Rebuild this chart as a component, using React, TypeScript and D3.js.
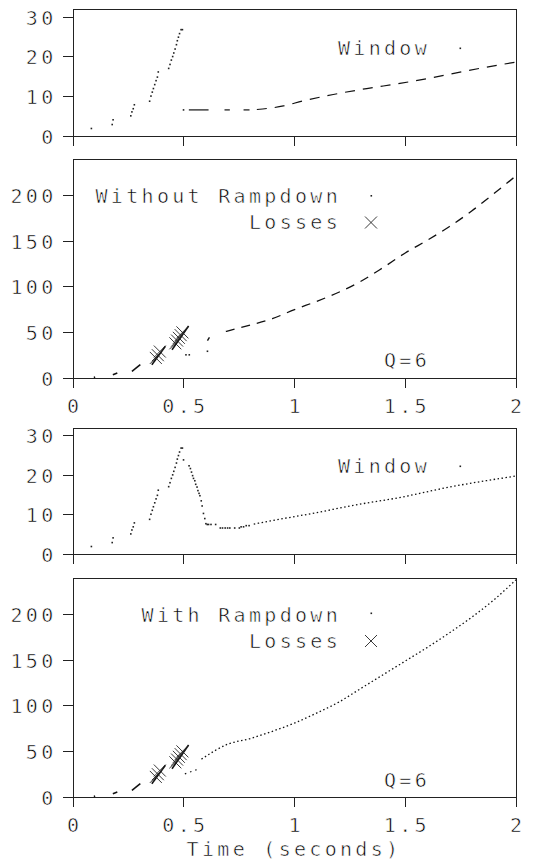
import React from "react";
import * as d3 from "d3";

type P = [number, number];

const xTicks = [0, 0.5, 1, 1.5, 2];
const xTickLabels = ["0", "0.5", "1", "1.5", "2"];
const windowTicks = [0, 10, 20, 30];
const seqTicks = [0, 50, 100, 150, 200];

// window (packets) during slow start — per-ack points
const slowStartWindow: P[] = [
  [0.083, 1.9],
  [0.177, 2.9], [0.181, 4.1],
  [0.261, 5.1], [0.266, 6.1], [0.272, 6.9], [0.277, 7.9],
  [0.346, 8.8], [0.352, 10.1], [0.358, 11.1], [0.363, 12.0], [0.369, 13.0], [0.375, 14.0], [0.381, 14.9], [0.385, 16.2],
  [0.432, 17.1], [0.438, 18.1], [0.444, 19.2], [0.45, 20.1], [0.455, 21.0], [0.461, 22.0], [0.467, 23.1], [0.471, 24.1],
  [0.476, 25.0], [0.481, 25.9], [0.488, 26.9], [0.494, 26.9],
];

// without rampdown: window after the loss
const noRampWindowDots: P[] = [[0.499, 6.6]];
const noRampWindowFlat: P[][] = [
  [[0.523, 6.6], [0.612, 6.6]],
  [[0.684, 6.6], [0.708, 6.6]],
  [[0.77, 6.6], [0.797, 6.6]],
];
const noRampWindowGrowth: P[] = [
  [0.83, 6.7], [0.95, 7.6], [1.04, 8.9], [1.175, 10.5], [1.326, 12.0], [1.476, 13.3], [1.627, 14.8], [1.777, 16.5], [2.0, 18.7],
];

// with rampdown: window after the loss
const rampWindowDots: P[] = [
  [0.499, 23.9], [0.524, 22.4], [0.53, 21.7], [0.535, 20.8], [0.54, 19.9], [0.544, 19.2], [0.55, 18.6], [0.554, 17.7],
  [0.56, 17.0], [0.564, 16.1], [0.569, 15.4], [0.573, 14.8], [0.579, 13.5], [0.583, 12.2], [0.589, 10.3], [0.595, 9.0],
  [0.6, 7.7], [0.606, 7.5], [0.612, 7.5], [0.623, 7.5], [0.644, 7.5], [0.665, 6.6], [0.675, 6.6], [0.687, 6.6],
  [0.698, 6.6], [0.708, 6.6], [0.73, 6.6], [0.751, 6.6], [0.759, 6.9], [0.77, 6.9], [0.782, 7.2], [0.795, 7.2],
];
const rampWindowGrowth: P[] = [
  [0.816, 7.6], [0.95, 9.0], [1.1, 10.5], [1.25, 12.2], [1.48, 14.4], [1.7, 17.0], [2.0, 19.8],
];

// sequence numbers (packets) — shared slow-start bursts
const earlySeq: P[][] = [
  [[0.094, 0.6], [0.1, 1.0]],
  [[0.18, 3.6], [0.2, 5.5]],
  [[0.266, 7.3], [0.304, 14.6]],
  [[0.356, 14.6], [0.417, 34.8]],
  [[0.447, 31.0], [0.522, 57.0]],
];

const noRampSeqDots: P[] = [[0.51, 25.4], [0.525, 25.4], [0.607, 29.3]];
const noRampSeqBits: P[][] = [[[0.607, 41.0], [0.616, 44.5]]];
const noRampSeqMain: P[] = [
  [0.69, 51], [0.8, 58], [0.9, 65], [1.0, 75], [1.1, 84], [1.2, 94], [1.3, 106], [1.4, 121], [1.5, 137],
  [1.6, 151], [1.7, 166], [1.8, 183], [1.9, 202], [2.0, 221.6],
];

const rampSeqLow: P[] = [[0.505, 25.4], [0.565, 30.5]];
const rampSeqMain: P[] = [
  [0.58, 41.5], [0.7, 58], [0.8, 64], [0.9, 72], [1.0, 81], [1.1, 92], [1.2, 104], [1.3, 119], [1.4, 134],
  [1.5, 149], [1.6, 164], [1.7, 180], [1.8, 197], [1.9, 216], [2.0, 238],
];

const lossesNoRamp: P[] = [
  [0.374, 22], [0.383, 25], [0.392, 29],
  [0.462, 38], [0.47, 41], [0.478, 44], [0.486, 47], [0.494, 50],
];
const lossesRamp: P[] = [
  [0.374, 22], [0.383, 25], [0.392, 29],
  [0.462, 38], [0.47, 41], [0.478, 44], [0.486, 47], [0.494, 50],
];

const FONT = "'DejaVu Sans Mono', monospace";
const FS = 20;
const LS = 3.3;
const X0 = 73;
const X1 = 516;

const x = d3.scaleLinear().domain([0, 2]).range([X0, X1]);

type Series = { type: "dots" | "line"; data: P[]; dash?: string; width?: number; smooth?: boolean };

const textStyle = {
  fontFamily: FONT,
  fontSize: FS,
  letterSpacing: LS,
  fill: "#000",
  stroke: "#fff",
  strokeWidth: 0.6,
  paintOrder: "fill",
} as const;

function Panel(props: {
  top: number;
  bottom: number;
  yMax: number;
  yTicks: number[];
  showXLabels: boolean;
  series: Series[];
  losses?: P[];
}) {
  const { top, bottom, yMax, yTicks, showXLabels, series, losses } = props;
  const y = d3.scaleLinear().domain([0, yMax]).range([bottom, top]);
  const straight = d3
    .line<P>()
    .x((d) => x(d[0]))
    .y((d) => y(d[1]));
  const smooth = d3
    .line<P>()
    .x((d) => x(d[0]))
    .y((d) => y(d[1]))
    .curve(d3.curveMonotoneX);
  return (
    <g>
      <path
        d={`M${X0},${bottom}V${top}H${X1}V${bottom}`}
        fill="none"
        stroke="#222"
        strokeWidth={1}
        shapeRendering="crispEdges"
      />
      <line x1={X0 - 10} x2={X1} y1={bottom} y2={bottom} stroke="#222" shapeRendering="crispEdges" />
      <g opacity={0.995}>
        {yTicks.map((t) => (
          <g key={t}>
            <line x1={X0 - 10} x2={X0} y1={y(t)} y2={y(t)} stroke="#222" shapeRendering="crispEdges" />
            <text x={X0 - 16.5} y={y(t) + 7.5} textAnchor="end" style={textStyle}>
              {String(t)}
            </text>
          </g>
        ))}
        {xTicks.map((t, i) => (
          <g key={t}>
            <line x1={x(t)} x2={x(t)} y1={bottom} y2={bottom + 10} stroke="#222" shapeRendering="crispEdges" />
            {showXLabels && (
              <text x={x(t) + 1.6} y={bottom + 35} textAnchor="middle" style={textStyle}>
                {xTickLabels[i]}
              </text>
            )}
          </g>
        ))}
      </g>
      {series.map((s, i) =>
        s.type === "dots" ? (
          <g key={i}>
            {s.data.map((d, j) => (
              <rect key={j} x={x(d[0]) - 0.8} y={y(d[1]) - 0.8} width={1.6} height={1.6} fill="#222" />
            ))}
          </g>
        ) : (
          <path
            key={i}
            d={(s.smooth ? smooth(s.data) : straight(s.data)) || ""}
            fill="none"
            stroke="#111"
            strokeWidth={s.width ?? 1.2}
            strokeDasharray={s.dash}
          />
        )
      )}
      {losses &&
        losses.map((d, j) => {
          const cx = x(d[0]);
          const cy = y(d[1]);
          const h = 6;
          return (
            <path
              key={j}
              d={`M${cx - h},${cy - h}L${cx + h},${cy + h}M${cx - h},${cy + h}L${cx + h},${cy - h}`}
              stroke="#222"
              strokeWidth={0.9}
              fill="none"
            />
          );
        })}
    </g>
  );
}

function Txt(props: { x: number; y: number; children: string; anchor?: string }) {
  return (
    <text x={props.x} y={props.y} textAnchor={props.anchor ?? "end"} style={textStyle} opacity={0.995}>
      {props.children}
    </text>
  );
}

function XMark({ cx, cy }: { cx: number; cy: number }) {
  const h = 6;
  return (
    <path
      d={`M${cx - h},${cy - h}L${cx + h},${cy + h}M${cx - h},${cy + h}L${cx + h},${cy - h}`}
      stroke="#222"
      strokeWidth={0.9}
      fill="none"
    />
  );
}

export default function App() {
  const earlySeqSeries: Series[] = earlySeq.map((s) => ({ type: "line", data: s, width: 1.6 }));
  return (
    <svg width={548} height={860} style={{ position: "absolute", left: 0, top: 0, background: "#fff" }}>
      <rect width={548} height={860} fill="#fff" />
      {/* Panel 1: window without rampdown */}
      <Panel
        top={9.5}
        bottom={136}
        yMax={32}
        yTicks={windowTicks}
        showXLabels={false}
        series={[
          { type: "dots", data: slowStartWindow },
          { type: "dots", data: noRampWindowDots },
          ...noRampWindowFlat.map((s) => ({ type: "line" as const, data: s, width: 1.2 })),
          { type: "line", data: noRampWindowGrowth, dash: "10 8", width: 1.2, smooth: true },
        ]}
      />
      <Txt x={430} y={55}>Window</Txt>
      <rect x={459.5} y={47.5} width={1.6} height={1.6} fill="#222" />

      {/* Panel 2: sequence without rampdown */}
      <Panel
        top={159}
        bottom={378}
        yMax={240}
        yTicks={seqTicks}
        showXLabels={true}
        series={[
          ...earlySeqSeries,
          { type: "dots", data: noRampSeqDots },
          ...noRampSeqBits.map((s) => ({ type: "line" as const, data: s, width: 1.4 })),
          { type: "line", data: noRampSeqMain, dash: "9 7", width: 1.3, smooth: true },
        ]}
        losses={lossesNoRamp}
      />
      <Txt x={341} y={203}>Without Rampdown</Txt>
      <rect x={370.5} y={195} width={1.6} height={1.6} fill="#222" />
      <Txt x={341} y={229}>Losses</Txt>
      <XMark cx={371} cy={222.5} />
      <Txt x={430} y={367}>Q=6</Txt>

      {/* Panel 3: window with rampdown */}
      <Panel
        top={428}
        bottom={554}
        yMax={32}
        yTicks={windowTicks}
        showXLabels={false}
        series={[
          { type: "dots", data: slowStartWindow },
          { type: "dots", data: rampWindowDots },
          { type: "line", data: rampWindowGrowth, dash: "1.5 2.5", width: 1.3, smooth: true },
        ]}
      />
      <Txt x={430} y={473}>Window</Txt>
      <rect x={459.5} y={465.5} width={1.6} height={1.6} fill="#222" />

      {/* Panel 4: sequence with rampdown */}
      <Panel
        top={578}
        bottom={797}
        yMax={240}
        yTicks={seqTicks}
        showXLabels={true}
        series={[
          ...earlySeqSeries,
          { type: "line", data: rampSeqLow, dash: "1.5 4", width: 1.2 },
          { type: "line", data: rampSeqMain, dash: "1.5 2.5", width: 1.3, smooth: true },
        ]}
        losses={lossesRamp}
      />
      <Txt x={341} y={622}>With Rampdown</Txt>
      <rect x={370.5} y={612.5} width={1.6} height={1.6} fill="#222" />
      <Txt x={341} y={648}>Losses</Txt>
      <XMark cx={371} cy={641} />
      <Txt x={430} y={787}>Q=6</Txt>

      <Txt x={294} y={856} anchor="middle">Time (seconds)</Txt>
    </svg>
  );
}
